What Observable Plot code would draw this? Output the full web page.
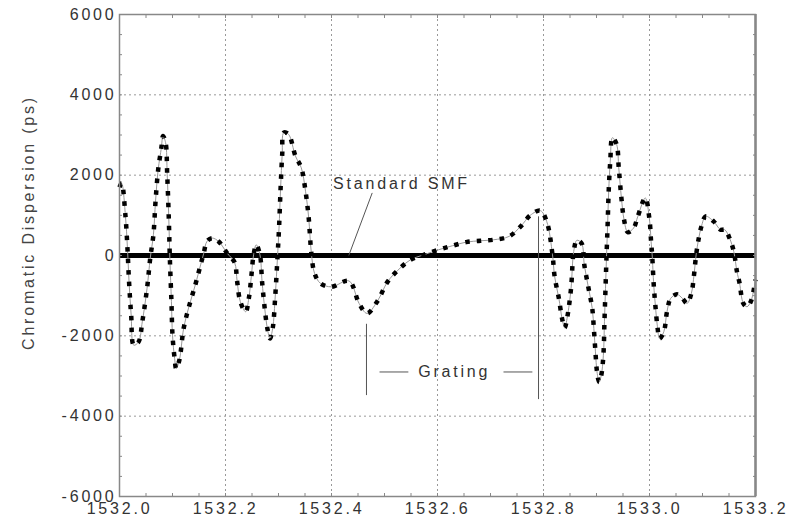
<!DOCTYPE html>
<html>
<head>
<meta charset="utf-8">
<script src="https://cdn.jsdelivr.net/npm/d3@7"></script>
<script src="https://cdn.jsdelivr.net/npm/@observablehq/plot@0.6"></script>
<style>
  html, body { margin: 0; padding: 0; background: #fff; }
  svg text { letter-spacing: 2.8px; }
</style>
</head>
<body>
<div id="chart"></div>
<script>
// Wavelength (nm) and chromatic dispersion (ps)
const wavelength = [
  1532.000, 1532.004, 1532.011, 1532.015, 1532.018, 1532.022, 1532.027, 1532.036, 1532.043, 1532.052,
  1532.058, 1532.064, 1532.068, 1532.073, 1532.079, 1532.082, 1532.087, 1532.090, 1532.093, 1532.095,
  1532.098, 1532.100, 1532.104, 1532.107, 1532.113, 1532.121, 1532.131, 1532.143, 1532.153, 1532.159,
  1532.165, 1532.175, 1532.187, 1532.203, 1532.217, 1532.222, 1532.228, 1532.238, 1532.244, 1532.249,
  1532.253, 1532.258, 1532.265, 1532.269, 1532.274, 1532.279, 1532.284, 1532.289, 1532.294, 1532.298,
  1532.301, 1532.304, 1532.307, 1532.310, 1532.319, 1532.332, 1532.343, 1532.351, 1532.357, 1532.362,
  1532.368, 1532.379, 1532.400, 1532.433, 1532.452, 1532.467, 1532.486, 1532.506, 1532.524, 1532.549,
  1532.574, 1532.602, 1532.628, 1532.654, 1532.681, 1532.706, 1532.735, 1532.757, 1532.775, 1532.794,
  1532.806, 1532.817, 1532.821, 1532.829, 1532.835, 1532.840, 1532.845, 1532.852, 1532.857, 1532.863,
  1532.872, 1532.877, 1532.885, 1532.892, 1532.895, 1532.898, 1532.901, 1532.905, 1532.909, 1532.913,
  1532.915, 1532.917, 1532.919, 1532.921, 1532.923, 1532.926, 1532.930, 1532.938, 1532.942, 1532.947,
  1532.952, 1532.959, 1532.970, 1532.978, 1532.992, 1533.000, 1533.003, 1533.005, 1533.008, 1533.011,
  1533.015, 1533.019, 1533.027, 1533.033, 1533.040, 1533.052, 1533.062, 1533.071, 1533.079, 1533.084,
  1533.088, 1533.093, 1533.098, 1533.106, 1533.121, 1533.134, 1533.142, 1533.151, 1533.159, 1533.165,
  1533.170, 1533.177, 1533.184, 1533.191, 1533.196, 1533.200
];
const dispersion = [
  1700, 1800, 1025, 183, -650, -1483, -2233, -2150, -1650, -817,
  -67, 517, 1350, 2142, 2683, 2975, 2808, 2017, 933, -67,
  -1150, -1983, -2567, -2817, -2600, -1817, -1275, -733, -233, 58,
  350, 433, 350, 58, -167, -650, -1150, -1400, -1067, -483,
  17, 267, 17, -650, -1317, -1817, -2067, -1817, -983, -67,
  683, 1683, 2517, 3058, 3017, 2475, 2183, 1600, 933, 58,
  -442, -692, -780, -633, -1192, -1442, -1150, -650, -383, -108,
  17, 142, 242, 333, 367, 392, 475, 725, 1000, 1117,
  850, 17, -525, -1067, -1567, -1800, -1525, -817, 100, 380,
  300, -233, -817, -1317, -1817, -2400, -2900, -3150, -2983, -2483,
  -1650, -817, 17, 767, 1600, 2350, 2933, 2767, 2183, 1433,
  892, 583, 683, 975, 1433, 892, 350, 17, -733, -1233,
  -1775, -2067, -1900, -1400, -1067, -967, -1067, -1192, -942, -483,
  17, 433, 725, 975, 850, 642, 642, 433, 100, -400,
  -692, -1192, -1275, -1150, -900, -600
];

// Axis ticks
const xMajor = [1532.0, 1532.2, 1532.4, 1532.6, 1532.8, 1533.0, 1533.2];
const yMajor = [-6000, -4000, -2000, 0, 2000, 4000, 6000];
const xMinor = d3.range(0, 25).map(i => 1532 + i * 0.05);
const yMinor = d3.range(-12, 13).map(i => i * 500);

// Annotations
const noteText = ["Standard SMF", "Grating"];
const noteX = [1532.532, 1532.6315];
const noteY = [1775, -2900];
const segX1 = [1532.4768, 1532.466, 1532.7906, 1532.4906, 1532.7245];
const segY1 = [1558, -1700, 975, -2900, -2900];
const segX2 = [1532.4326, 1532.466, 1532.7906, 1532.545, 1532.779];
const segY2 = [0, -3475, -3575, -2900, -2900];
const yTitle = "Chromatic Dispersion (ps)";

const curve = wavelength.map((w, i) => ({w, d: dispersion[i]}));
const notes = noteText.map((t, i) => ({t, x: noteX[i], y: noteY[i]}));
const segs = segX1.map((x, i) => ({x1: x, y1: segY1[i], x2: segX2[i], y2: segY2[i]}));

const font = "'Liberation Sans', Arial, Helvetica, sans-serif";
const gridStyle = {stroke: "#999", strokeWidth: 1, strokeDasharray: "2,3", strokeOpacity: 1};

const chart = Plot.plot({
  width: 793,
  height: 518,
  marginLeft: 119,
  marginRight: 38,
  marginTop: 14,
  marginBottom: 22,
  style: {fontFamily: font, fontSize: "16px", color: "#333", background: "#fff"},
  x: {domain: [1532, 1533.2], ticks: xMajor},
  y: {domain: [-6000, 6000]},
  marks: [
    Plot.ruleX(xMajor.slice(1, -1), gridStyle),
    Plot.ruleY(yMajor.slice(1, -1), gridStyle),
    Plot.ruleY([0], {stroke: "#000", strokeWidth: 5}),
    Plot.line(curve, {x: "w", y: "d", stroke: "#999", strokeWidth: 1, curve: "catmull-rom"}),
    Plot.line(curve, {x: "w", y: "d", stroke: "#000", strokeWidth: 4.5, strokeDasharray: "4.5,7", strokeLinecap: "butt", curve: "catmull-rom"}),
    Plot.link(segs, {x1: "x1", y1: "y1", x2: "x2", y2: "y2", stroke: "#555", strokeWidth: 1}),
    Plot.text(notes, {x: "x", y: "y", text: "t", fill: "#333", fontSize: 16, textAnchor: "middle"}),
    Plot.frame({stroke: "#888", strokeWidth: 1.5}),
    Plot.ruleX([1533.2], {stroke: "#888", strokeWidth: 2.5}),
    // minor ticks, inward on all four sides
    Plot.axisX(xMinor, {anchor: "bottom", tickSize: 3, dy: -3, text: null, stroke: "#888"}),
    Plot.axisX(xMinor, {anchor: "top", tickSize: 3, dy: 3, text: null, stroke: "#888"}),
    Plot.axisY(yMinor, {anchor: "left", tickSize: 3, dx: 3, text: null, stroke: "#888"}),
    Plot.axisY(yMinor, {anchor: "right", tickSize: 3, dx: -3, text: null, stroke: "#888"}),
    // labelled axes
    Plot.axisX(xMajor, {anchor: "bottom", tickSize: 0, tickPadding: 6, tickFormat: d => d.toFixed(1), label: null, fill: "#333", fontSize: 16}),
    Plot.axisY(yMajor, {anchor: "left", tickSize: 0, tickPadding: 3, tickFormat: d => String(d), label: null, fill: "#333", fontSize: 16}),
    Plot.text([yTitle], {frameAnchor: "left", textAnchor: "middle", rotate: -90, dx: -91, dy: -33, fill: "#444", fontSize: 16})
  ]
});
document.getElementById("chart").appendChild(chart);
</script>
</body>
</html>
